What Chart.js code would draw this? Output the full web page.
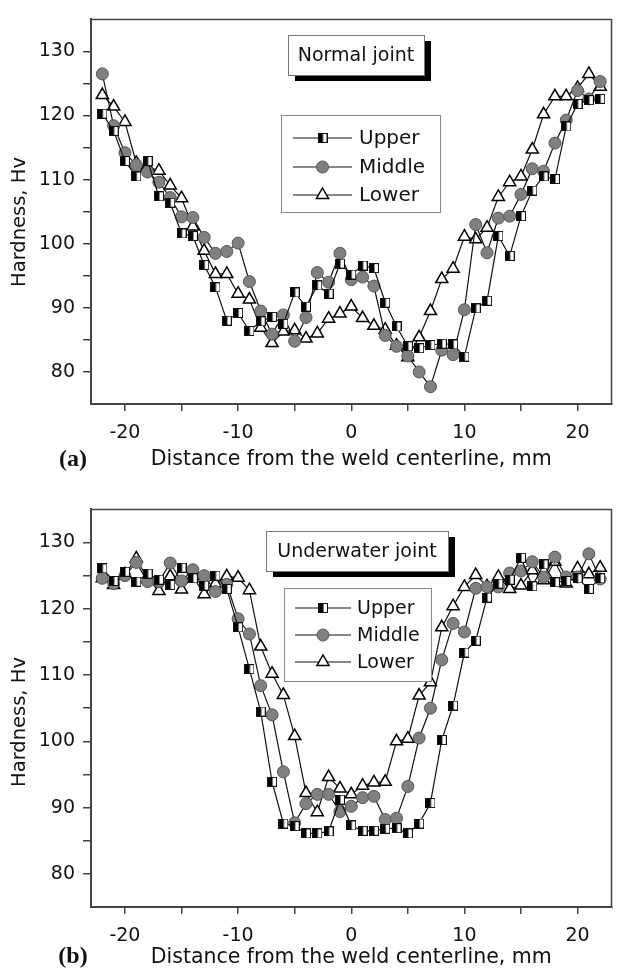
<!DOCTYPE html>
<html>
<head>
<meta charset="utf-8">
<script src="https://cdn.jsdelivr.net/npm/chart.js@4.4.0/dist/chart.umd.min.js"></script>
<style>
  body { margin: 0; background: #fff; }
  .wrap { position: absolute; left: 0; }
</style>
</head>
<body>
<div class="wrap" style="top:0"><canvas id="chartA" width="620" height="490"></canvas></div>
<div class="wrap" style="top:490px"><canvas id="chartB" width="620" height="478"></canvas></div>
<script>
// distance from the weld centerline, mm
var distance = [-22,-21,-20,-19,-18,-17,-16,-15,-14,-13,-12,-11,-10,-9,-8,-7,-6,-5,-4,-3,-2,-1,
                0,1,2,3,4,5,6,7,8,9,10,11,12,13,14,15,16,17,18,19,20,21,22];

// (a) normal joint, hardness Hv
var normalUpper = [120.3,117.6,112.9,110.5,112.9,107.4,106.4,101.6,101.2,96.7,93.2,88.0,89.2,86.4,87.9,88.6,87.5,92.4,90.2,93.5,92.2,96.9,
                   95.2,96.6,96.2,90.8,87.1,84.0,83.7,84.2,84.4,84.3,82.4,89.9,91.1,101.2,98.1,104.3,108.3,110.5,110.1,118.3,121.8,122.4,122.6];
var normalMiddle = [126.5,118.4,114.2,112.3,111.2,109.6,107.2,104.2,104.1,101.0,98.5,98.8,100.1,94.1,89.5,85.9,88.9,84.8,88.5,95.5,94.0,98.5,
                    94.4,94.8,93.4,85.7,84.0,82.5,80.0,77.7,83.4,82.7,89.7,103.0,98.6,104.0,104.3,107.7,111.7,111.3,115.7,119.3,123.9,122.6,125.3];
var normalLower = [123.2,121.4,119.0,112.6,112.0,111.4,109.1,107.1,102.7,98.9,95.3,95.3,92.2,91.3,86.9,84.5,86.3,86.5,85.2,86.0,88.3,89.1,
                   90.2,88.4,87.2,86.6,84.1,82.3,85.4,89.5,94.5,96.1,101.1,100.7,102.5,107.3,109.6,110.5,114.7,120.2,123.0,123.0,124.3,126.5,124.5];

// (b) underwater joint, hardness Hv
var underwaterUpper = [126.1,124.2,125.6,124.1,125.3,124.4,123.6,126.2,124.6,123.5,125.0,123.0,117.2,110.9,104.5,93.9,87.6,87.2,86.1,86.1,86.4,91.2,
                       87.3,86.5,86.5,86.8,86.9,86.1,87.6,90.7,100.2,105.4,113.4,115.2,121.7,123.8,124.4,127.7,123.4,126.7,124.0,124.2,124.6,123.0,124.6];
var underwaterMiddle = [124.6,123.8,125.0,127.0,124.1,124.1,126.9,124.2,125.9,125.0,122.6,123.7,118.5,116.2,108.4,104.0,95.4,87.7,90.6,92.0,92.0,89.4,
                        90.2,91.5,91.7,88.2,88.4,93.2,100.5,105.0,112.3,117.8,116.5,123.1,123.3,123.3,125.4,125.7,127.1,124.8,127.8,124.8,124.8,128.3,124.5];
var underwaterLower = [124.6,123.6,125.2,127.6,124.5,122.7,124.9,122.9,124.9,122.2,123.8,124.9,124.7,122.8,114.3,110.2,107.0,100.8,92.2,89.3,94.6,92.9,
                       92.0,93.3,93.8,93.9,100.0,100.4,106.9,108.9,117.2,120.4,123.3,125.1,123.4,124.8,123.0,123.5,125.8,124.3,127.1,123.8,126.1,125.2,126.2];

var seriesNames = ['Upper', 'Middle', 'Lower'];
var xTickValues = [-20, -15, -10, -5, 0, 5, 10, 15, 20];
var yTickValues = [80, 85, 90, 95, 100, 105, 110, 115, 120, 125, 130];

Chart.defaults.font.family = 'DejaVu Sans';
Chart.defaults.color = '#111';

// half black / half white square marker
function halfSquare() {
    var c = document.createElement('canvas');
    c.width = 10; c.height = 10;
    var g = c.getContext('2d');
    g.fillStyle = '#fff';
    g.fillRect(0, 0, 10, 10);
    g.fillStyle = '#000';
    g.fillRect(1, 1, 4.5, 8);
    g.strokeStyle = '#111';
    g.lineWidth = 1;
    g.strokeRect(0.5, 0.5, 9, 9);
    return c;
}
var squareImg = halfSquare();

function points(ys) {
    return distance.map(function(d, i) { return { x: d, y: ys[i] }; });
}

function drawMarker(ctx, kind, x, y) {
    ctx.save();
    if (kind === 0) {
        ctx.drawImage(squareImg, x - 5, y - 5);
    } else if (kind === 1) {
        ctx.beginPath();
        ctx.arc(x, y, 6, 0, Math.PI * 2);
        ctx.fillStyle = '#808080';
        ctx.fill();
        ctx.strokeStyle = '#555';
        ctx.lineWidth = 1;
        ctx.stroke();
    } else {
        var r = 7;
        ctx.beginPath();
        ctx.moveTo(x, y - r);
        ctx.lineTo(x + 0.866 * r, y + 0.5 * r);
        ctx.lineTo(x - 0.866 * r, y + 0.5 * r);
        ctx.closePath();
        ctx.fillStyle = '#fff';
        ctx.fill();
        ctx.strokeStyle = '#000';
        ctx.lineWidth = 1.5;
        ctx.stroke();
    }
    ctx.restore();
}

// frame, labelled box, legend, y title and panel letter
var decorations = {
    id: 'decorations',
    afterDraw: function(chart, args, opts) {
        var ctx = chart.ctx;
        var a = chart.chartArea;
        ctx.save();
        ctx.strokeStyle = '#444';
        ctx.lineWidth = 1.5;
        ctx.beginPath();
        ctx.moveTo(a.left, a.top);
        ctx.lineTo(a.right, a.top);
        ctx.lineTo(a.right, a.bottom);
        ctx.stroke();

        // joint label with shadow
        var b = opts.labelBox;
        ctx.fillStyle = '#000';
        ctx.fillRect(b.x + 7, b.y + 6, b.w, b.h);
        ctx.fillStyle = '#fff';
        ctx.fillRect(b.x, b.y, b.w, b.h);
        ctx.strokeStyle = '#777';
        ctx.lineWidth = 1;
        ctx.strokeRect(b.x + 0.5, b.y + 0.5, b.w, b.h);
        ctx.fillStyle = '#111';
        ctx.font = '19px "DejaVu Sans"';
        ctx.textAlign = 'center';
        ctx.textBaseline = 'middle';
        ctx.fillText(opts.labelText, b.x + b.w / 2, b.y + b.h / 2 + 1);

        // legend
        var l = opts.legend;
        ctx.fillStyle = '#fff';
        ctx.fillRect(l.x, l.y, l.w, l.h);
        ctx.strokeStyle = '#888';
        ctx.strokeRect(l.x + 0.5, l.y + 0.5, l.w, l.h);
        ctx.font = l.font + 'px "DejaVu Sans"';
        ctx.textAlign = 'left';
        for (var i = 0; i < seriesNames.length; i++) {
            var ry = l.rows[i];
            ctx.strokeStyle = '#111';
            ctx.lineWidth = 1.2;
            ctx.beginPath();
            ctx.moveTo(l.x1, ry);
            ctx.lineTo(l.x2, ry);
            ctx.stroke();
            drawMarker(ctx, i, (l.x1 + l.x2) / 2, ry);
            ctx.fillStyle = '#111';
            ctx.fillText(seriesNames[i], l.tx, ry + 1);
        }

        // y axis title
        ctx.save();
        ctx.translate(20, opts.yTitleY);
        ctx.rotate(-Math.PI / 2);
        ctx.textAlign = 'center';
        ctx.textBaseline = 'middle';
        ctx.font = '19.5px "DejaVu Sans"';
        ctx.fillText('Hardness, Hv', 0, 0);
        ctx.restore();

        // panel letter
        ctx.font = 'bold 24px "Liberation Serif"';
        ctx.textAlign = 'center';
        ctx.textBaseline = 'middle';
        ctx.fillText(opts.panel, 73, opts.panelY);
        ctx.restore();
    }
};

function makeChart(id, up, mid, low, cfg) {
    return new Chart(document.getElementById(id), {
        type: 'line',
        data: {
            datasets: [
                { label: seriesNames[0], data: points(up), order: 0,
                  borderColor: '#111', borderWidth: 1.2, pointStyle: squareImg, pointRadius: 5 },
                { label: seriesNames[1], data: points(mid), order: 1,
                  borderColor: '#111', borderWidth: 1.2, pointStyle: 'circle', pointRadius: 6,
                  pointBackgroundColor: '#808080', pointBorderColor: '#555', pointBorderWidth: 1 },
                { label: seriesNames[2], data: points(low), order: 2,
                  borderColor: '#111', borderWidth: 1.2, pointStyle: 'triangle', pointRadius: 7,
                  pointBackgroundColor: '#fff', pointBorderColor: '#000', pointBorderWidth: 1.5 }
            ]
        },
        options: {
            responsive: false,
            animation: false,
            layout: { padding: { left: 0, right: 1, top: cfg.padTop, bottom: 0 } },
            plugins: {
                legend: { display: false },
                tooltip: { enabled: false },
                decorations: cfg.deco
            },
            scales: {
                x: {
                    type: 'linear',
                    min: -23, max: 23,
                    afterBuildTicks: function(s) { s.ticks = xTickValues.map(function(v) { return { value: v }; }); },
                    afterFit: function(s) { s.height = cfg.xHeight; },
                    grid: { drawOnChartArea: false, tickLength: 7, color: '#444', lineWidth: 1.5 },
                    border: { color: '#444', width: 2 },
                    ticks: {
                        padding: 11,
                        font: { size: 19 },
                        maxRotation: 0,
                        callback: function(v) { return v % 10 === 0 ? String(v) : ''; }
                    },
                    title: {
                        display: true,
                        text: 'Distance from the weld centerline, mm',
                        font: { size: 20.5, lineHeight: 1 },
                        padding: { top: 0, bottom: cfg.titlePad }
                    }
                },
                y: {
                    min: 75, max: 135,
                    afterBuildTicks: function(s) { s.ticks = yTickValues.map(function(v) { return { value: v }; }); },
                    afterFit: function(s) { s.width = 91; },
                    grid: { drawOnChartArea: false, tickLength: 8, color: '#444', lineWidth: 1.5 },
                    border: { color: '#444', width: 2 },
                    ticks: {
                        padding: 8,
                        font: { size: 19 },
                        callback: function(v) { return v % 10 === 0 ? String(v) : ''; }
                    }
                }
            }
        },
        plugins: [decorations]
    });
}

makeChart('chartA', normalUpper, normalMiddle, normalLower, {
    padTop: 12, xHeight: 86, titlePad: 20,
    deco: {
        labelText: 'Normal joint',
        labelBox: { x: 288, y: 35, w: 136, h: 40 },
        legend: { x: 281, y: 115, w: 159, h: 97, x1: 293, x2: 352, tx: 359, font: 20, rows: [138, 167, 195] },
        yTitleY: 222,
        panel: '(a)', panelY: 460
    }
});

makeChart('chartB', underwaterUpper, underwaterMiddle, underwaterLower, {
    padTop: 17, xHeight: 61, titlePad: 0,
    deco: {
        labelText: 'Underwater joint',
        labelBox: { x: 266, y: 41, w: 182, h: 40 },
        legend: { x: 284, y: 98, w: 147, h: 93, x1: 295, x2: 351, tx: 357, font: 19, rows: [118, 145, 172] },
        yTitleY: 232,
        panel: '(b)', panelY: 467
    }
});
</script>
</body>
</html>
